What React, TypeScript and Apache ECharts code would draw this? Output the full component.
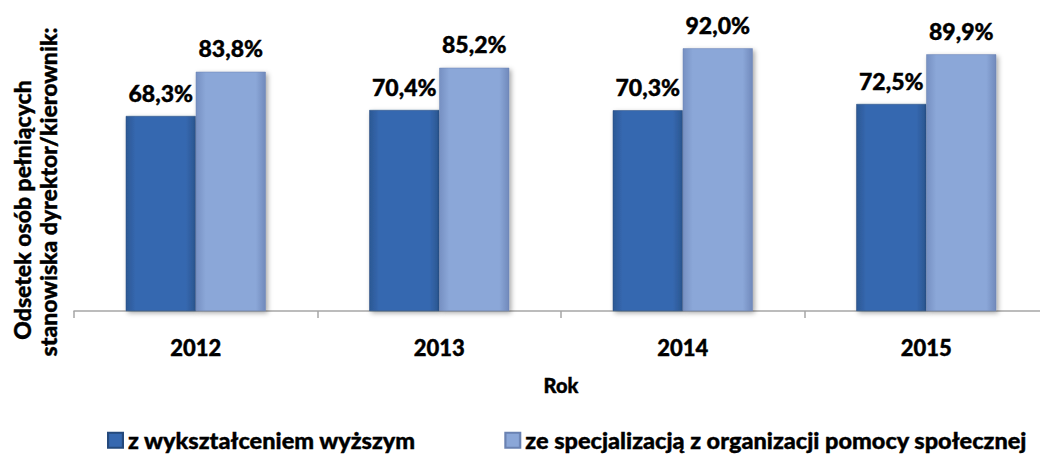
import React, { useEffect, useRef } from "react";
import * as echarts from "echarts";

const years = ["2012", "2013", "2014", "2015"];
const higherEdu = [68.3, 70.4, 70.3, 72.5];
const specialization = [83.8, 85.2, 92.0, 89.9];
const seriesNames = [
  "z wykształceniem wyższym",
  "ze specjalizacją z organizacji pomocy społecznej",
];
const yTitleLines = ["Odsetek osób pełniących", "stanowiska dyrektor/kierownik:"];
const xTitle = "Rok";

const FONT = "Lato";

function fmt(v: number) {
  return v.toFixed(1).replace(".", ",") + "%";
}

export default function App() {
  const ref = useRef<HTMLDivElement>(null);
  useEffect(() => {
    if (!ref.current) return;
    const chart = echarts.init(ref.current, null, { renderer: "svg" });
    const darkGrad = new echarts.graphic.LinearGradient(0, 0, 1, 0, [
      { offset: 0, color: "#2b5894" },
      { offset: 0.14, color: "#3668b0" },
      { offset: 0.86, color: "#3668b0" },
      { offset: 1, color: "#2a5690" },
    ]);
    const lightGrad = new echarts.graphic.LinearGradient(0, 0, 1, 0, [
      { offset: 0, color: "#7690c2" },
      { offset: 0.14, color: "#8ba7d8" },
      { offset: 0.86, color: "#8ba7d8" },
      { offset: 1, color: "#7089bb" },
    ]);
    const labelStyle = {
      show: true,
      position: "top" as const,
      distance: 12,
      fontFamily: FONT,
      fontWeight: 900,
      fontSize: 23,
      color: "#000",
      textBorderColor: "#000",
      textBorderWidth: 0.4,
      formatter: (p: any) => fmt(p.value),
    };
    const shadow = {
      shadowColor: "rgba(0,0,0,0.35)",
      shadowBlur: 5,
      shadowOffsetX: 2,
      shadowOffsetY: 2,
    };
    const titleStyle = (text: string) => ({
      text,
      fontFamily: FONT,
      fontWeight: 900,
      fontSize: 23,
      fill: "#000",
      stroke: "#000",
      lineWidth: 0.4,
      align: "center",
      verticalAlign: "middle",
    });
    chart.setOption({
      animation: false,
      textStyle: { fontFamily: FONT },
      grid: { left: 74, right: -14, top: 25.5, bottom: 159, containLabel: false },
      legend: {
        left: 107,
        top: 428,
        padding: 0,
        itemWidth: 15,
        itemHeight: 15,
        itemGap: 88,
        icon: "rect",
        textStyle: {
          fontFamily: FONT,
          fontWeight: 900,
          fontSize: 23.5,
          color: "#000",
          textBorderColor: "#000",
          textBorderWidth: 0.4,
        },
        data: seriesNames,
      },
      xAxis: {
        type: "category",
        data: years,
        name: xTitle,
        nameLocation: "middle",
        nameGap: 64,
        nameTextStyle: {
          fontFamily: FONT,
          fontWeight: 900,
          fontSize: 20,
          color: "#000",
          textBorderColor: "#000",
          textBorderWidth: 0.4,
          verticalAlign: "top",
        },
        axisLine: { lineStyle: { color: "#a6a6a6", width: 1.5 } },
        axisTick: { show: true, length: 7, lineStyle: { color: "#a6a6a6", width: 1.5 } },
        axisLabel: {
          margin: 25,
          fontFamily: FONT,
          fontWeight: 900,
          fontSize: 22,
          color: "#000",
          textBorderColor: "#000",
          textBorderWidth: 0.4,
        },
      },
      yAxis: {
        type: "value",
        min: 0,
        max: 100,
        show: false,
        splitLine: { show: false },
      },
      graphic: [
        {
          type: "text",
          x: 22,
          y: 210,
          rotation: Math.PI / 2,
          style: titleStyle(yTitleLines[0]),
        },
        {
          type: "text",
          x: 48,
          y: 192,
          rotation: Math.PI / 2,
          style: titleStyle(yTitleLines[1]),
        },
      ],
      series: [
        {
          name: seriesNames[0],
          type: "bar",
          data: higherEdu,
          barWidth: 70,
          barGap: "0%",
          itemStyle: { color: darkGrad, borderColor: "#24497c", borderWidth: 0.5, ...shadow },
          label: labelStyle,
        },
        {
          name: seriesNames[1],
          type: "bar",
          data: specialization,
          barWidth: 70,
          barGap: "0%",
          itemStyle: { color: lightGrad, borderColor: "#6a82b2", borderWidth: 0.5, ...shadow },
          label: labelStyle,
        },
      ],
    });
    return () => chart.dispose();
  }, []);
  return <div ref={ref} style={{ width: 1048, height: 470, margin: -8 }} />;
}
